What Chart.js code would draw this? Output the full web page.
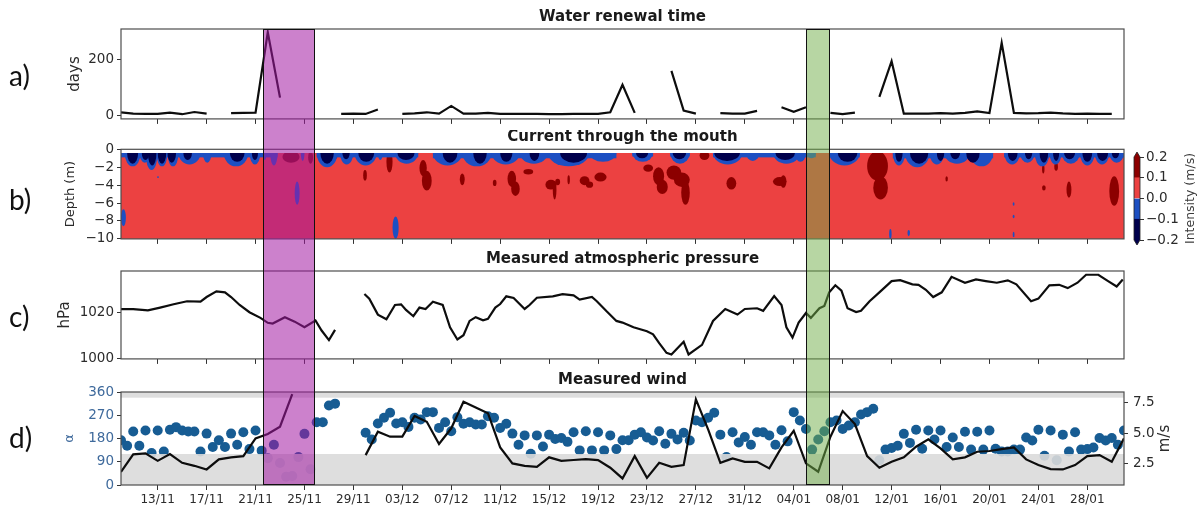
<!DOCTYPE html>
<html>
<head>
<meta charset="utf-8">
<script src="https://cdn.jsdelivr.net/npm/chart.js@4.4.0/dist/chart.umd.min.js"></script>
<style>
  html, body { margin: 0; padding: 0; background: #fff; }
  #fig { position: relative; width: 1203px; height: 509px; overflow: hidden; background: #fff; }
  #fig canvas { position: absolute; left: 0; }
  .lab { position: absolute; font-family: Lato, "Open Sans", sans-serif; font-size: 28px; color: #111; line-height: 1; }
  .band { position: absolute; box-sizing: border-box; border: 1px solid #111; pointer-events: none; }
</style>
</head>
<body>
<div id="fig">
  <canvas id="cA" width="1203" height="130" style="top:0px"></canvas>
  <canvas id="cB" width="1203" height="120" style="top:130px"></canvas>
  <canvas id="cBar" width="103" height="115" style="top:140px; left:1100px"></canvas>
  <canvas id="cC" width="1203" height="120" style="top:250px"></canvas>
  <canvas id="cD" width="1203" height="139" style="top:370px"></canvas>
  <div class="lab" style="left:9px; top:61px">a)</div>
  <div class="lab" style="left:9px; top:185px">b)</div>
  <div class="lab" style="left:9px; top:302px">c)</div>
  <div class="lab" style="left:9px; top:423px">d)</div>
</div>
<script>
// ---------- time axis (days since 10/11) ----------
const dateTickLabels = ['13/11','17/11','21/11','25/11','29/11','03/12','07/12','11/12','15/12','19/12',
                        '23/12','27/12','31/12','04/01','08/01','12/01','16/01','20/01','24/01','28/01'];
const firstTickDay = 3;
const tickStepDays = 4;
const lastDay = 82;

// highlighted episodes [startDay, endDay]
const purpleEpisode = [11.6, 15.85];
const greenEpisode = [56.0, 57.97];

// ---------- a) water renewal time, one value per day (days) ----------
const renewalDays = [10,5,4,4,9,3,11,5,null,7,8,9,300,63,null,null,null,null,4,5,4,20,null,
  4,6,10,5,33,5,5,8,4,4,4,4,3,3,4,4,4,10,110,8,null,null,160,16,5,null,7,5,5,15,null,
  28,12,28,null,8,3,9,null,66,195,5,5,5,7,5,8,13,7,262,8,6,7,9,6,4,5,4,4];

// ---------- b) current through the mouth (m/s contour classes) ----------
// surface ebb lobes: [startDay, endDay, bottomDepth m]
const ebbLobes = [[0.3,1.6,1.9],[1.5,2.4,1.5],[2.0,3.0,2.3],[2.9,3.8,1.9],[3.8,4.7,1.9],[4.7,6.5,1.7],
  [6.7,7.4,1.5],[8.4,10.4,1.9],[10.5,11.4,1.7],[11.6,11.9,1.2],[12.2,12.8,1.8],[14.7,15.0,1.3],
  [16.0,17.7,2.0],[17.9,19.0,1.7],[19.1,20.9,1.8],[21.0,21.4,1.2],[22.4,24.3,1.6],[25.5,27.9,1.8],
  [27.9,30.3,1.9],[30.3,32.6,1.7],[32.6,34.9,1.6],[34.9,38.3,1.9],[38.3,40.5,1.4],[41.8,43.5,1.4],
  [44.9,46.5,1.6],[48.4,50.8,1.7],[51.1,52.2,1.3],[53.3,55.5,1.6],[55.1,56.0,1.4],[56.1,56.8,1.0],
  [57.9,60.4,1.8],[63.1,64.1,1.8],[64.1,66.1,2.0],[66.1,67.3,1.7],[67.3,69.4,1.6],[69.4,71.3,1.9],
  [72.2,73.5,1.7],[73.5,74.7,1.5],[74.7,75.9,1.9],[75.9,76.9,1.7],[76.9,78.4,1.6],[78.4,79.6,1.8],
  [79.6,80.8,1.7],[80.8,82.0,1.5]];
// thin ebb layer right under the surface: [startDay, endDay, bottomDepth m]
const ebbSurface = [[0.0,12.8,0.9],[16.0,24.3,0.9],[25.5,40.5,1.0],[41.8,43.5,0.8],[44.9,46.5,0.8],
  [48.4,56.8,0.9],[57.9,60.4,0.9],[63.1,71.3,1.0],[72.2,82.0,0.9]];
// strong ebb cores (< -0.1 m/s): [startDay, endDay, bottomDepth m]
const strongEbbCores = [[0.5,1.4,1.6],[1.7,2.3,1.2],[2.2,2.9,1.8],[3.0,3.7,1.6],[3.8,4.5,1.5],[5.1,5.8,1.2],
  [8.9,10.1,1.4],[10.7,11.2,1.2],[16.3,17.4,1.6],[18.1,18.7,1.1],[19.4,20.7,1.4],[22.6,24.0,1.2],
  [26.3,27.5,1.5],[28.8,29.9,1.6],[31.0,32.0,1.4],[33.4,34.2,1.3],[35.9,38.1,1.5],[42.1,43.1,1.0],
  [45.1,46.2,1.1],[48.5,50.6,1.3],[53.5,55.1,1.2],[58.6,60.2,1.4],[63.3,63.9,1.4],[64.5,66.0,1.6],
  [66.7,67.3,1.3],[67.8,68.6,1.1],[69.1,70.2,1.5],[72.5,73.3,1.3],[73.9,74.5,1.1],[75.1,75.8,1.5],
  [76.2,76.7,1.3],[77.1,78.0,1.1],[78.6,79.4,1.4],[79.8,80.7,1.3],[81.0,81.6,1.0]];
// strong flood patches (> 0.1 m/s): [startDay, endDay, topDepth, bottomDepth]
const strongFloodPatches = [[13.2,14.6,0.2,1.5],[15.3,15.7,0.2,1.6],[17.3,17.7,0.2,1.1],[19.8,20.1,2.3,3.5],
  [21.7,22.2,0.2,2.6],[24.4,25.0,1.2,3.0],[24.6,25.4,2.4,4.6],[27.7,28.1,2.7,4.0],[30.4,30.7,3.4,4.1],
  [31.6,32.3,2.4,4.2],[31.9,32.6,3.6,5.2],
  [32.9,33.7,2.2,2.8],[34.7,35.6,3.4,4.5],[35.3,35.6,3.5,5.6],[35.5,35.9,3.3,4.0],[36.5,36.7,2.9,3.9],
  [37.5,38.3,3.0,4.0],[38.0,38.6,3.6,4.3],
  [38.7,39.7,2.6,3.6],[42.7,43.5,1.7,2.5],[43.5,44.4,2.0,4.0],[43.8,44.7,3.4,5.0],[44.6,45.8,1.8,3.4],
  [45.2,46.5,2.6,4.2],[45.8,46.5,3.5,6.2],
  [47.3,48.1,0.2,1.2],[49.5,50.3,3.1,4.5],[53.3,54.4,3.1,4.1],[53.9,54.4,2.9,4.3],[61.0,62.7,0.2,3.5],
  [61.5,62.7,3.0,5.6],[67.4,67.6,3.0,3.6],[75.3,75.5,1.7,2.7],[75.3,75.6,4.0,4.6],[76.3,76.6,1.5,2.4],
  [77.3,77.7,3.6,5.4],[80.8,81.6,3.0,6.3]];
// isolated weak ebb patches at depth: [startDay, endDay, topDepth, bottomDepth]
const deepEbbPatches = [[14.2,14.6,3.6,6.2],[0.0,0.4,6.7,8.6],[2.95,3.1,3.0,3.2],[22.2,22.7,7.5,10.0],
  [62.8,63.0,8.9,10.0],[64.3,64.5,9.0,9.7],[72.9,73.05,5.9,6.3],[72.9,73.05,7.3,7.7],[72.9,73.05,9.2,9.8]];
const firstBinDepth = 0.4;
const maxDepth = 10;

// colour classes of the current intensity
const cbarLevels = [-0.2, -0.1, 0.0, 0.1, 0.2];
const cbarColors = ['#00004c', '#1d4fc2', '#ec4141', '#8c0000'];

// ---------- c) atmospheric pressure (hPa) ----------
const pressureDay = [0.0,1.0,2.2,3.2,4.3,5.4,6.5,7.0,7.8,8.5,9.0,9.7,10.5,11.4,12.0,12.4,13.4,14.2,15.0,15.9,
  16.4,17.0,17.5,18.7,
  19.9,20.3,21.0,21.7,22.4,22.9,23.3,23.9,24.4,24.9,25.5,26.3,26.9,27.5,28.0,28.5,29.0,29.6,30.0,30.6,
  31.0,31.5,32.1,33.0,33.4,34.0,35.3,36.1,37.0,37.5,38.5,38.9,39.7,40.5,41.0,41.9,43.0,43.5,44.0,44.6,
  45.0,46.0,46.4,47.5,48.4,49.4,50.4,51.0,52.0,52.5,53.4,54.0,54.4,54.9,55.4,56.0,56.4,57.1,57.5,57.9,
  58.4,58.9,59.4,60.1,60.5,61.2,62.0,63.0,63.7,64.7,65.2,65.8,66.4,67.1,67.9,69.0,69.9,70.7,71.6,72.5,
  73.2,74.4,75.0,75.9,76.7,77.4,78.2,78.9,79.9,80.7,81.4,81.9];
const pressureHpa = [1021.2,1021.2,1020.7,1021.9,1023.3,1024.6,1024.4,1026.4,1028.8,1028.4,1026.4,1023.0,
  1019.9,1017.5,1015.4,1015.1,1017.8,1015.9,1013.5,1016.4,1012.1,1008.0,1012.4,null,
  1027.7,1025.7,1018.9,1016.9,1023.0,1023.3,1020.9,1018.2,1021.9,1021.3,1024.4,1023.0,1013.5,1008.3,
  1010.1,1016.2,1017.8,1016.5,1017.1,1021.9,1023.4,1026.7,1026.0,1021.3,1023.0,1026.1,1026.7,1027.6,
  1027.1,1025.3,1026.4,1024.6,1020.3,1016.2,1015.5,1013.5,1011.8,1010.5,1006.7,1002.6,1001.9,1007.3,
  1001.9,1006.0,1016.2,1021.3,1018.9,1021.3,1021.6,1020.5,1026.8,1023.0,1013.5,1009.1,1015.5,1019.6,
  1017.5,1021.6,1022.6,1028.4,1031.4,1029.1,1021.6,1020.0,1020.5,1024.6,1028.4,1033.2,1033.6,1031.8,
  1031.6,1029.5,1026.4,1028.4,1035.0,1032.5,1033.9,1033.2,1032.5,1033.5,1031.8,1024.6,1025.7,1031.4,
  1031.6,1030.2,1032.5,1035.9,1035.9,1033.2,1030.9,1033.9];

// ---------- d) wind ----------
// direction every 12 h (degrees)
const windDirDeg = [173,152,207,152,211,124,211,130,214,224,
  211,207,207,130,199,147,173,147,199,156,
  204,139,211,133,104,156,85,32,35,108,
  198,61,243,243,308,315,null,null,null,null,
  202,176,238,260,280,238,243,225,260,254,
  282,282,221,243,208,262,237,243,234,234,
  266,260,221,237,199,156,192,121,192,149,
  195,178,182,167,204,134,208,134,204,134,
  192,139,173,173,195,204,184,172,208,160,
  198,176,202,172,250,243,260,280,195,108,
  204,165,186,156,204,204,192,156,212,169,
  282,250,217,137,176,208,243,250,217,230,
  243,273,282,295,96,137,143,152,198,163,
  214,140,211,176,211,147,184,147,206,137,
  206,137,211,140,130,130,137,137,184,172,
  214,113,211,96,195,130,204,137,139,145,
  182,172,182,156,211];
// daily mean speed (m/s)
const windSpeed = [1.8,3.24,3.33,2.71,3.27,2.55,2.3,2.0,2.83,3.0,3.1,4.56,4.92,5.52,8.2,
  null,null,null,null,null,
  3.18,5.11,4.7,4.7,6.4,5.93,4.1,5.39,7.58,7.1,6.63,3.82,2.5,2.3,2.22,3.0,2.71,2.78,2.85,2.77,
  2.14,1.26,3.1,1.31,2.55,2.22,2.36,7.78,5.3,2.55,2.91,2.63,2.63,2.09,3.82,5.19,2.5,1.81,4.7,6.81,
  5.74,3.1,2.14,2.63,3.0,3.87,4.48,3.74,2.83,3.0,3.46,3.52,3.68,3.82,2.83,2.36,2.03,2.0,2.36,3.1,
  3.18,2.63,4.56];
// shaded direction sectors (degrees)
const shadedSectors = [[0, 120], [338, 360]];

// ---------- shared styling ----------
const FONT = 'DejaVu Sans';
const TICK_COLOR = '#2b2b2b';
const Y_AXIS_WIDTH = 121;
const RIGHT_GAP = 79;

function timeAxis(showLabels, height) {
  return {
    type: 'linear', position: 'bottom', min: 0, max: lastDay,
    afterBuildTicks: s => { s.ticks = dateTickLabels.map((_, k) => ({ value: firstTickDay + k * tickStepDays })); },
    afterFit: s => { s.height = height; },
    grid: { drawOnChartArea: false, drawTicks: true, tickLength: 5, color: '#333', lineWidth: 1 },
    border: { display: false },
    ticks: {
      display: showLabels, autoSkip: false, maxRotation: 0, minRotation: 0, padding: 3,
      color: TICK_COLOR, font: { family: FONT, size: 12 },
      callback: (v, i) => dateTickLabels[i]
    }
  };
}

function leftAxis(min, max, tickValues, title, titleSize, color, fmt) {
  return {
    type: 'linear', position: 'left', min, max,
    afterBuildTicks: s => { s.ticks = tickValues.map(v => ({ value: v })); },
    afterFit: s => { s.width = Y_AXIS_WIDTH; },
    grid: { drawOnChartArea: false, drawTicks: true, tickLength: 4, color: '#333' },
    border: { display: false },
    ticks: { padding: 3, color: color || TICK_COLOR, font: { family: FONT, size: 13.5 },
      callback: fmt || (v => String(v)) },
    title: { display: true, text: title, color: color || '#2b2b2b',
      font: { family: FONT, size: titleSize }, padding: { top: 0, bottom: 0 } }
  };
}

const minusFmt = v => (v < 0 ? '\u2212' + String(Math.abs(v)) : String(v));

// frame around the plotting area
const framePlugin = {
  id: 'frame',
  afterDraw(chart, args, o) {
    const { left, top, right, bottom } = chart.chartArea;
    const ctx = chart.ctx;
    ctx.save();
    ctx.strokeStyle = '#4d4d4d';
    ctx.lineWidth = 1.2;
    ctx.strokeRect(left, top, right - left, bottom - top);
    ctx.restore();
  }
};

// panel title above the plotting area
const panelTitlePlugin = {
  id: 'panelTitle',
  afterDraw(chart, args, o) {
    if (!o || !o.text) return;
    const ca = chart.chartArea;
    const ctx = chart.ctx;
    ctx.save();
    ctx.font = 'bold 15px "' + FONT + '"';
    ctx.fillStyle = '#1a1a1a';
    ctx.textAlign = 'center';
    ctx.textBaseline = 'middle';
    ctx.fillText(o.text, (ca.left + ca.right) / 2, ca.top - o.offset);
    ctx.restore();
  }
};

// rotated label reading bottom-to-top (used for right-hand axes)
const sideLabelPlugin = {
  id: 'sideLabel',
  afterDraw(chart, args, o) {
    if (!o || !o.text) return;
    const ca = chart.chartArea;
    const ctx = chart.ctx;
    ctx.save();
    ctx.translate(o.x, (ca.top + ca.bottom) / 2);
    ctx.rotate(-Math.PI / 2);
    ctx.font = o.size + 'px "' + FONT + '"';
    ctx.fillStyle = o.color || '#2b2b2b';
    ctx.textAlign = 'center';
    ctx.textBaseline = 'middle';
    ctx.fillText(o.text, 0, 0);
    ctx.restore();
  }
};

function baseOptions(padTop, rightPad) {
  return {
    responsive: false, animation: false, devicePixelRatio: 1,
    layout: { padding: { top: padTop, left: 0, right: rightPad, bottom: 0 } },
    plugins: { legend: { display: false }, tooltip: { enabled: false } }
  };
}

// ---------- a) ----------
const optA = baseOptions(29, RIGHT_GAP);
optA.scales = {
  x: timeAxis(false, 8),
  y: leftAxis(-14, 312, [0, 200], 'days', 15)
};
optA.plugins.panelTitle = { text: 'Water renewal time', offset: 11.5 };
optA.scales.y.title.padding = { top: 66, bottom: 0 };
const chartA = new Chart(document.getElementById('cA'), {
  type: 'line',
  data: { datasets: [{
    data: renewalDays.map((v, i) => ({ x: i, y: v })),
    borderColor: '#0d0d0d', borderWidth: 2.2, pointRadius: 0, tension: 0, spanGaps: false
  }] },
  options: optA,
  plugins: [framePlugin, panelTitlePlugin]
});

// ---------- b) ----------
function fillEllipse(ctx, x0, x1, y0, y1, color) {
  const cx = (x0 + x1) / 2, cy = (y0 + y1) / 2;
  const rx = Math.max(Math.abs(x1 - x0) / 2, 0.8), ry = Math.max(Math.abs(y1 - y0) / 2, 0.8);
  ctx.fillStyle = color;
  ctx.beginPath();
  ctx.ellipse(cx, cy, rx, ry, 0, 0, Math.PI * 2);
  ctx.fill();
}

const contourPlugin = {
  id: 'contour',
  beforeDatasetsDraw(chart) {
    const xs = chart.scales.x, ys = chart.scales.y, ctx = chart.ctx;
    const px = d => xs.getPixelForValue(d);
    const py = z => ys.getPixelForValue(-z);
    const top = py(firstBinDepth), bottom = py(maxDepth);
    const left = px(0), right = px(lastDay);
    ctx.save();
    ctx.beginPath();
    ctx.rect(left, top, right - left, bottom - top);
    ctx.clip();
    // weak flood everywhere (0..0.1)
    ctx.fillStyle = cbarColors[2];
    ctx.fillRect(left, top, right - left, bottom - top);
    // strong flood (>0.1)
    strongFloodPatches.forEach(p => fillEllipse(ctx, px(p[0]), px(p[1]), py(p[2]), py(p[3]), cbarColors[3]));
    // weak ebb at depth
    deepEbbPatches.forEach(p => fillEllipse(ctx, px(p[0]), px(p[1]), py(p[2]), py(p[3]), cbarColors[1]));
    // weak ebb under the surface
    ctx.fillStyle = cbarColors[1];
    ebbSurface.forEach(s => {
      const x0 = px(s[0]), x1 = px(s[1]);
      ctx.fillRect(x0, top, x1 - x0, py(s[2]) - top);
    });
    ebbLobes.forEach(l => fillEllipse(ctx, px(l[0]), px(l[1]), top - (py(l[2]) - top), py(l[2]), cbarColors[1]));
    // strong ebb cores
    strongEbbCores.forEach(l => fillEllipse(ctx, px(l[0]), px(l[1]), top - (py(l[2]) - top), py(l[2]), cbarColors[0]));
    ctx.restore();
  }
};

const optB = baseOptions(19.3, RIGHT_GAP);
optB.scales = {
  x: timeAxis(false, 7),
  y: leftAxis(-maxDepth, 0, [0, -2, -4, -6, -8, -10], 'Depth (m)', 13, null, minusFmt)
};
optB.scales.y.title.padding = { top: 63, bottom: 0 };
optB.plugins.panelTitle = { text: 'Current through the mouth', offset: 12 };
const chartB = new Chart(document.getElementById('cB'), {
  type: 'scatter',
  data: { datasets: [] },
  options: optB,
  plugins: [contourPlugin, framePlugin, panelTitlePlugin]
});

// colour bar of the current intensity
const cbarPlugin = {
  id: 'cbarExtras',
  afterDatasetsDraw(chart) {
    const ys = chart.scales.y, ca = chart.chartArea, ctx = chart.ctx;
    const l = ca.left, r = ca.right, m = (l + r) / 2;
    const yTop = ys.getPixelForValue(cbarLevels[cbarLevels.length - 1]);
    const yBot = ys.getPixelForValue(cbarLevels[0]);
    const ext = 5;
    ctx.save();
    ctx.fillStyle = cbarColors[cbarColors.length - 1];
    ctx.beginPath(); ctx.moveTo(l, yTop); ctx.lineTo(m, yTop - ext); ctx.lineTo(r, yTop); ctx.closePath(); ctx.fill();
    ctx.fillStyle = cbarColors[0];
    ctx.beginPath(); ctx.moveTo(l, yBot); ctx.lineTo(m, yBot + ext); ctx.lineTo(r, yBot); ctx.closePath(); ctx.fill();
    ctx.strokeStyle = '#222';
    ctx.lineWidth = 0.8;
    ctx.beginPath();
    ctx.moveTo(l, yTop); ctx.lineTo(m, yTop - ext); ctx.lineTo(r, yTop);
    ctx.lineTo(r, yBot); ctx.lineTo(m, yBot + ext); ctx.lineTo(l, yBot); ctx.closePath();
    ctx.stroke();
    ctx.restore();
  }
};
const chartBar = new Chart(document.getElementById('cBar'), {
  type: 'bar',
  data: {
    labels: ['intensity'],
    datasets: cbarColors.map((c, k) => ({
      data: [[cbarLevels[k], cbarLevels[k + 1]]],
      backgroundColor: c, borderWidth: 0, grouped: false,
      barPercentage: 1, categoryPercentage: 1
    }))
  },
  options: {
    responsive: false, animation: false, devicePixelRatio: 1,
    layout: { padding: { top: 17, left: 34, right: 0, bottom: 15 } },
    plugins: { legend: { display: false }, tooltip: { enabled: false },
      sideLabel: { text: 'Intensity (m/s)', x: 91, size: 12.5, color: '#3a3a3a' } },
    scales: {
      x: { display: false },
      y: {
        position: 'right', min: -0.2, max: 0.2,
        afterBuildTicks: s => { s.ticks = cbarLevels.map(v => ({ value: v })); },
        afterFit: s => { s.width = 63; },
        grid: { drawOnChartArea: false, drawTicks: true, tickLength: 4, color: '#333' },
        border: { display: false },
        ticks: { padding: 2, color: TICK_COLOR, font: { family: FONT, size: 13.5 },
          callback: v => minusFmt(Number(v).toFixed(1) * 1).replace(/^(\u2212?)(\d)$/, '$1$2.0') }
      }
    }
  },
  plugins: [cbarPlugin, sideLabelPlugin]
});

// ---------- c) ----------
const optC = baseOptions(21, RIGHT_GAP);
optC.scales = {
  x: timeAxis(false, 7),
  y: leftAxis(1000, 1037.5, [1000, 1020], 'hPa', 15)
};
optC.scales.y.title.padding = { top: 56, bottom: 0 };
optC.plugins.panelTitle = { text: 'Measured atmospheric pressure', offset: 12 };
const chartC = new Chart(document.getElementById('cC'), {
  type: 'line',
  data: { datasets: [{
    data: pressureDay.map((d, i) => ({ x: d, y: pressureHpa[i] })),
    borderColor: '#0d0d0d', borderWidth: 2.2, pointRadius: 0, tension: 0, spanGaps: false
  }] },
  options: optC,
  plugins: [framePlugin, panelTitlePlugin]
});

// ---------- d) ----------
const DIR_BLUE = '#3f6a9c';
const sectorPlugin = {
  id: 'sectors',
  afterDatasetDraw(chart, args) {
    if (args.index !== 1) return;
    const ys = chart.scales.yDir, ca = chart.chartArea, ctx = chart.ctx;
    ctx.save();
    ctx.fillStyle = 'rgba(218,218,218,0.9)';
    shadedSectors.forEach(s => {
      const y0 = ys.getPixelForValue(s[1]), y1 = ys.getPixelForValue(s[0]);
      ctx.fillRect(ca.left, y0, ca.right - ca.left, y1 - y0);
    });
    ctx.restore();
  }
};
const optD = baseOptions(22, 0);
optD.scales = {
  x: timeAxis(true, 24),
  yDir: leftAxis(0, 360, [0, 90, 180, 270, 360], '\u03b1', 13, DIR_BLUE),
  ySpeed: {
    type: 'linear', position: 'right', min: 0.72, max: 8.38,
    afterBuildTicks: s => { s.ticks = [2.5, 5.0, 7.5].map(v => ({ value: v })); },
    afterFit: s => { s.width = RIGHT_GAP; },
    grid: { drawOnChartArea: false, drawTicks: true, tickLength: 4, color: '#333' },
    border: { display: false },
    ticks: { padding: 5, color: TICK_COLOR, font: { family: FONT, size: 13.5 }, callback: v => Number(v).toFixed(1) }
  }
};
optD.scales.yDir.title.padding = { top: 62, bottom: 0 };
optD.plugins.panelTitle = { text: 'Measured wind', offset: 12 };
optD.plugins.sideLabel = { text: 'm/s', x: 1165, size: 15, color: '#2b2b2b' };
const chartD = new Chart(document.getElementById('cD'), {
  type: 'line',
  data: { datasets: [
    { data: windSpeed.map((v, i) => ({ x: i, y: v })), yAxisID: 'ySpeed',
      borderColor: '#0d0d0d', borderWidth: 2.2, pointRadius: 0, tension: 0, spanGaps: false },
    { type: 'scatter', data: windDirDeg.map((v, i) => ({ x: i * 0.5, y: v })), yAxisID: 'yDir',
      showLine: false, pointRadius: 5, pointBackgroundColor: '#175c93', pointBorderWidth: 0 }
  ] },
  options: optD,
  plugins: [sectorPlugin, framePlugin, panelTitlePlugin, sideLabelPlugin]
});

// ---------- highlighted episodes spanning all panels ----------
function addBand(ep, color) {
  const xs = chartA.scales.x;
  const x0 = xs.getPixelForValue(ep[0]), x1 = xs.getPixelForValue(ep[1]);
  const top = chartA.chartArea.top;
  const bottom = 370 + chartD.chartArea.bottom;
  const div = document.createElement('div');
  div.className = 'band';
  div.style.left = x0 + 'px';
  div.style.width = (x1 - x0) + 'px';
  div.style.top = top + 'px';
  div.style.height = (bottom - top) + 'px';
  div.style.background = color;
  document.getElementById('fig').appendChild(div);
}
addBand(purpleEpisode, 'rgba(162,26,162,0.55)');
addBand(greenEpisode, 'rgba(112,173,71,0.5)');
</script>
</body>
</html>
